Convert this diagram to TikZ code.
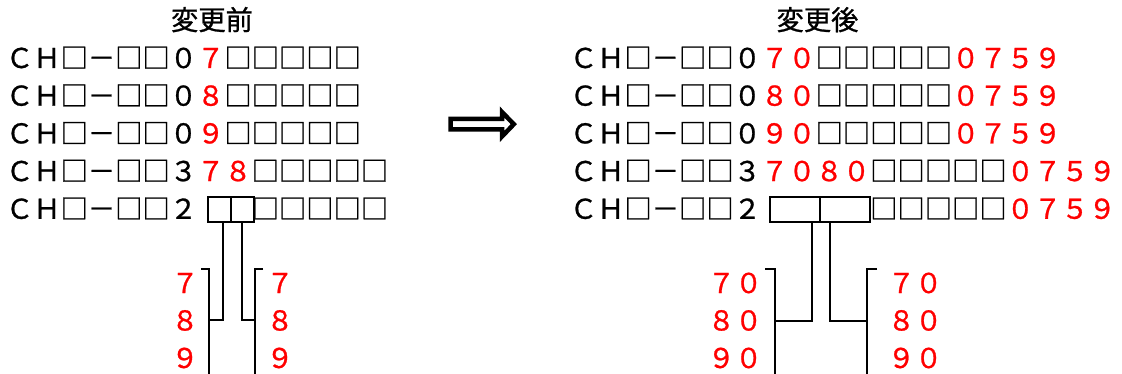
\documentclass[tikz,border=0pt]{standalone}
\usepackage{fontspec}
\newfontfamily\jp{Noto Sans CJK JP}[FakeBold=0.9]
\newcommand{\rd}[1]{\textcolor{red}{#1}}
\begin{document}
\begin{tikzpicture}[x=1pt,y=-1pt,
  txt/.style={inner sep=0pt, font=\jp\fontsize{27.3}{27.3}\selectfont},
  rowtxt/.style={txt, anchor=base west},
  numtxt/.style={txt, anchor=base, text=red},
  cellbox/.style={draw, line width=1.6pt},
  link/.style={draw, line width=1.5pt},
  bigarrow/.style={draw, line width=4.5pt, fill=white, miter limit=10}]
\useasboundingbox (0,0) rectangle (1122,374);
% titles
\node[txt, anchor=base] (t1) at (212,30) {変更前};
\node[txt, anchor=base] (t2) at (817.5,30) {変更後};
% left rows
\node[rowtxt] (l1) at (5.8,68)    {ＣＨ□－□□０\rd{７}□□□□□};
\node[rowtxt] (l2) at (5.8,105.7) {ＣＨ□－□□０\rd{８}□□□□□};
\node[rowtxt] (l3) at (5.8,143.4) {ＣＨ□－□□０\rd{９}□□□□□};
\node[rowtxt] (l4) at (5.8,181.1) {ＣＨ□－□□３\rd{７８}□□□□□};
\node[rowtxt] (l5) at (5.8,218.8) {ＣＨ□－□□２　　□□□□□};
% right rows
\node[rowtxt] (r1) at (569.7,68)    {ＣＨ□－□□０\rd{７０}□□□□□\rd{０７５９}};
\node[rowtxt] (r2) at (569.7,105.7) {ＣＨ□－□□０\rd{８０}□□□□□\rd{０７５９}};
\node[rowtxt] (r3) at (569.7,143.4) {ＣＨ□－□□０\rd{９０}□□□□□\rd{０７５９}};
\node[rowtxt] (r4) at (569.7,181.1) {ＣＨ□－□□３\rd{７０８０}□□□□□\rd{０７５９}};
\node[rowtxt] (r5) at (569.7,218.8) {ＣＨ□－□□２　　　　□□□□□\rd{０７５９}};
% arrow
\path[bigarrow] (450.5,119) -- (502,119) -- (502,112) -- (513.8,124.2)
  -- (502,136.5) -- (502,129.5) -- (450.5,129.5) -- cycle;
% left blank cells
\draw[cellbox] (208,197) rectangle (254,222);
\draw[cellbox] (231,197) -- (231,222);
\coordinate (la) at (223,222);
\coordinate (lb) at (242,222);
% left bracket lists
\node[numtxt] (ln1) at (185,293) {７};
\node[numtxt] (ln2) at (185,330.5) {８};
\node[numtxt] (ln3) at (185,368) {９};
\node[numtxt] (ln4) at (280,293) {７};
\node[numtxt] (ln5) at (280,330.5) {８};
\node[numtxt] (ln6) at (280,368) {９};
\coordinate (lbr1) at (209,320);
\coordinate (lbr2) at (255,320);
\draw[link] (201,269) -| (209,375);
\draw[link] (263,269) -| (255,375);
\draw[link] (la) |- (lbr1);
\draw[link] (lb) |- (lbr2);
% right blank cells
\draw[cellbox] (770,197) rectangle (870,222);
\draw[cellbox] (820,197) -- (820,222);
\coordinate (ra) at (812,222);
\coordinate (rb) at (830,222);
\node[numtxt] (rn1) at (735,293) {７０};
\node[numtxt] (rn2) at (735,330.5) {８０};
\node[numtxt] (rn3) at (735,368) {９０};
\node[numtxt] (rn4) at (915,293) {７０};
\node[numtxt] (rn5) at (915,330.5) {８０};
\node[numtxt] (rn6) at (915,368) {９０};
\coordinate (rbr1) at (775,321);
\coordinate (rbr2) at (867,321);
\draw[link] (765,269) -| (775,375);
\draw[link] (877,269) -| (867,375);
\draw[link] (ra) |- (rbr1);
\draw[link] (rb) |- (rbr2);
\end{tikzpicture}
\end{document}
